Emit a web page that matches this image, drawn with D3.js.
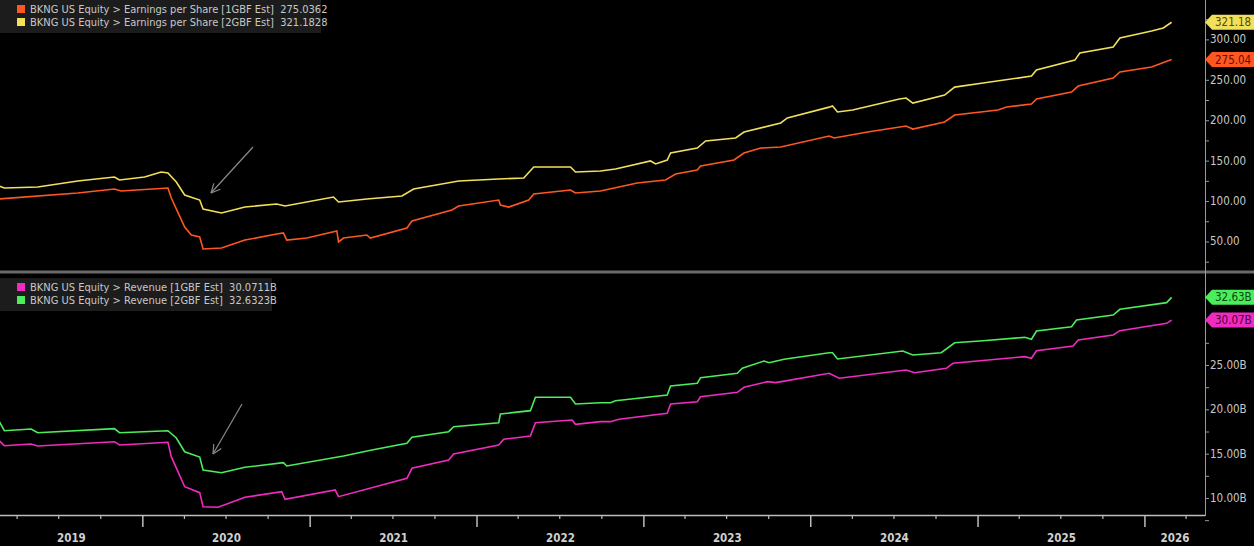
<!DOCTYPE html>
<html><head><meta charset="utf-8">
<script src="https://cdn.jsdelivr.net/npm/d3@7"></script>
<style>body{margin:0;background:#000;}svg{display:block;}</style>
</head><body>
<svg id="c" width="1254" height="546"></svg>
<script>
// ---- data (dates as decimal years) ----
const epsFy1Dates = [2019.14,2019.61,2019.83,2019.87,2020.15,2020.17,2020.25,2020.29,2020.34,2020.36,2020.47,2020.61,2020.80,2020.84,2020.86,2020.98,2021.16,2021.17,2021.20,2021.34,2021.36,2021.58,2021.61,2021.85,2021.89,2022.13,2022.14,2022.19,2022.31,2022.34,2022.56,2022.59,2022.74,
 2022.96,2023.13,2023.19,2023.32,2023.34,2023.54,2023.60,2023.70,2023.82,2024.11,2024.14,2024.34,2024.57,2024.61,2024.80,2024.86,2025.12,2025.17,2025.32,2025.35,2025.56,2025.60,2025.81,2025.85,2026.04,2026.16];
const epsFy1 = [102.6,110.0,114.9,112.4,116.2,103.8,67.9,58.0,55.5,40.7,41.9,51.8,59.2,60.5,51.8,54.3,63.0,49.4,54.3,58.0,54.3,66.7,75.3,88.9,93.9,101.3,95.1,92.6,101.3,108.7,113.7,110.0,112.4,
 122.3,126.1,133.5,138.4,143.4,150.8,159.5,165.6,166.9,180.5,178.0,185.4,192.8,189.1,197.8,206.5,212.6,216.4,220.1,226.3,234.9,242.3,252.2,259.7,265.9,275.04];
const epsFy2Dates = [2019.14,2019.17,2019.37,2019.61,2019.83,2019.86,2020.01,2020.11,2020.15,2020.20,2020.25,2020.34,2020.36,2020.47,2020.61,2020.80,2020.85,2021.14,2021.17,2021.34,2021.55,2021.62,2021.89,2022.13,2022.28,2022.34,2022.56,2022.59,2022.74,
 2022.83,2023.04,2023.07,2023.14,2023.16,2023.32,2023.37,2023.55,2023.60,2023.82,2023.86,2024.11,2024.13,2024.16,2024.25,2024.53,2024.57,2024.61,2024.80,2024.86,2025.03,2025.32,2025.35,2025.58,2025.61,2025.81,2025.85,2026.04,2026.11,2026.16];
const epsFy2 = [118.6,116.2,117.4,124.8,129.8,126.1,129.8,135.9,134.7,123.6,107.5,101.3,90.2,85.2,92.6,96.4,93.9,105.0,98.8,102.5,106.3,114.9,124.8,127.3,128.5,142.1,142.1,135.9,137.2,
 139.7,149.6,145.9,150.8,159.5,165.6,174.3,178.0,185.4,196.6,202.8,216.2,217.6,210.2,212.6,226.3,227.5,221.3,231.2,241.0,246.0,254.6,262.1,274.4,283.1,290.5,301.7,310.3,314.1,321.18];
const revFy1Dates = [2019.14,2019.17,2019.33,2019.37,2019.83,2019.86,2020.15,2020.17,2020.25,2020.34,2020.36,2020.45,2020.61,2020.83,2020.85,2021.15,2021.17,2021.58,2021.61,2021.83,2021.86,2022.13,2022.16,2022.32,2022.35,2022.57,2022.59,2022.74,
 2022.80,2022.85,2023.14,2023.16,2023.32,2023.34,2023.56,2023.60,2023.74,2023.79,2024.11,2024.17,2024.57,2024.62,2024.81,2024.85,2025.28,2025.32,2025.35,2025.57,2025.60,2025.81,2025.85,2026.13,2026.16];
const revFy1 = [16.46,15.90,16.09,15.87,16.35,15.98,16.28,14.66,11.27,10.60,9.02,8.95,10.08,10.71,9.85,10.90,10.15,12.22,13.35,14.29,14.96,15.98,16.62,16.99,18.49,18.80,18.31,18.61,
 18.61,18.88,19.55,20.60,20.86,21.42,21.92,22.49,23.12,23.01,24.06,23.50,24.44,24.13,24.63,25.19,25.94,25.76,26.61,27.14,27.82,28.38,28.87,29.70,30.07];
const revFy2Dates = [2019.14,2019.17,2019.33,2019.37,2019.83,2019.86,2020.15,2020.20,2020.25,2020.34,2020.36,2020.47,2020.61,2020.84,2020.86,2021.20,2021.37,2021.58,2021.61,2021.83,2021.86,2022.13,2022.14,2022.32,2022.35,2022.56,2022.59,2022.74,
 2022.80,2022.83,2023.14,2023.16,2023.32,2023.34,2023.56,2023.59,2023.72,2023.75,2023.84,2024.11,2024.13,2024.16,2024.55,2024.61,2024.78,2024.86,2025.03,2025.28,2025.32,2025.35,2025.56,2025.59,2025.81,2025.85,2026.13,2026.16];
const revFy2 = [18.61,17.59,17.78,17.36,17.82,17.36,17.59,16.77,15.22,14.62,13.16,12.85,13.46,13.98,13.61,14.74,15.41,16.17,16.85,17.48,18.04,18.49,19.47,19.85,21.36,21.36,20.60,20.75,
 20.75,20.97,21.62,22.63,22.94,23.57,24.06,24.63,25.45,25.26,25.64,26.39,26.39,25.68,26.58,26.13,26.39,27.51,27.74,28.12,27.90,28.83,29.32,30.07,30.64,31.28,32.03,32.63];
const yearLabels = ["2019","2020","2021","2022","2023","2024","2025","2026"];
const epsTicks = [50,100,150,200,250,300];
const revTicks = [10,15,20,25];
const legendTop = ["BKNG US Equity > Earnings per Share [1GBF Est]  275.0362","BKNG US Equity > Earnings per Share [2GBF Est]  321.1828"];
const legendBot = ["BKNG US Equity > Revenue [1GBF Est]  30.0711B","BKNG US Equity > Revenue [2GBF Est]  32.6323B"];

const C = {orange:"#ff5722", yellow:"#f2e05a", pink:"#f02cc0", green:"#4ced5a"};
const font = "'Liberation Sans Narrow','DejaVu Sans Condensed','Liberation Sans',sans-serif";

function toDate(t){const y=Math.floor(t);const s=new Date(y,0,1),e=new Date(y+1,0,1);return new Date(+s+(t-y)*(e-s));}

const svg = d3.select("#c");
const W=1205;
const x = d3.scaleTime().domain([toDate(2019.144), toDate(2026.36)]).range([0,W]);
const yTop = d3.scaleLinear().domain([0,300]).range([281.9,39.4]);
const yBot = d3.scaleLinear().domain([10,25]).range([498,365]);

const axisCol="#9a9a9a", txtCol="#c8c8c8";

// clip paths
svg.append("clipPath").attr("id","ct").append("rect").attr("x",0).attr("y",0).attr("width",W).attr("height",270);
svg.append("clipPath").attr("id","cb").append("rect").attr("x",0).attr("y",274).attr("width",W).attr("height",240);

function drawLine(dates, vals, ys, col, clip){
  const data = dates.map((d,i)=>[toDate(d),vals[i]]);
  svg.append("path").datum(data).attr("clip-path",`url(#${clip})`)
    .attr("fill","none").attr("stroke",col).attr("stroke-width",1.6)
    .attr("d", d3.line().x(d=>x(d[0])).y(d=>ys(d[1])));
}
drawLine(epsFy1Dates,epsFy1,yTop,C.orange,"ct");
drawLine(epsFy2Dates,epsFy2,yTop,C.yellow,"ct");
drawLine(revFy1Dates,revFy1,yBot,C.pink,"cb");
drawLine(revFy2Dates,revFy2,yBot,C.green,"cb");

// divider
svg.append("rect").attr("x",0).attr("y",270.5).attr("width",1254).attr("height",3).attr("fill","#6a6a6a");
// right axis line
svg.append("line").attr("x1",W+0.5).attr("x2",W+0.5).attr("y1",0).attr("y2",516).attr("stroke",axisCol).attr("stroke-width",1);

// y axes
function yAxis(scale, ticks, minorStep, fmt, lo, hi){
  const g = svg.append("g").attr("transform",`translate(${W},0)`);
  const minor = d3.range(lo, hi+0.001, minorStep);
  g.selectAll(".mn").data(minor).join("line").attr("x1",0).attr("x2",4)
    .attr("y1",d=>scale(d)+0.5).attr("y2",d=>scale(d)+0.5).attr("stroke",axisCol);
  g.selectAll(".tl").data(ticks).join("text").attr("x",5).attr("y",d=>scale(d)+4)
    .attr("fill",txtCol).attr("font-family",font).attr("font-size",11.5).text(fmt);
}
yAxis(yTop, epsTicks, 25, d=>d3.format(".2f")(d), 25, 325);
yAxis(yBot, revTicks, 2.5, d=>d3.format(".2f")(d)+"B", 7.5, 30);

// tags
function tag(y, col, txtc, label){
  const g=svg.append("g").attr("transform",`translate(${W},${y})`);
  g.append("path").attr("d","M0,0 L7,-7.5 L49,-7.5 L49,7.5 L7,7.5 Z").attr("fill",col);
  g.append("text").attr("x",10).attr("y",4).attr("fill",txtc).attr("font-family",font).attr("font-size",11.5).text(label);
}
tag(yTop(321.18),C.yellow,"#5a4a00","321.18");
tag(yTop(275.04),C.orange,"#5a1000","275.04");
tag(yBot(32.63),C.green,"#0a4a10","32.63B");
tag(yBot(30.07),C.pink,"#4a0035","30.07B");

// x axis
const xa = svg.append("g");
xa.append("line").attr("x1",0).attr("x2",W).attr("y1",515.5).attr("y2",515.5).attr("stroke","#bdbdbd").attr("stroke-width",1.5);
const quarters = x.ticks(d3.timeMonth.every(3));
xa.selectAll(".q").data(quarters).join("line")
  .attr("x1",d=>x(d)).attr("x2",d=>x(d))
  .attr("y1",515).attr("y2",d=>d.getMonth()===0?527:519)
  .attr("stroke","#bdbdbd").attr("stroke-width",d=>d.getMonth()===0?1.5:1.2);
xa.selectAll(".yl").data(yearLabels).join("text")
  .attr("x",d=>{const a=Math.max(0,x(new Date(+d,0,1))), b=Math.min(W,x(new Date(+d+1,0,1)));return (a+b)/2;})
  .attr("y",542).attr("text-anchor","middle").attr("fill","#d0d0d0")
  .attr("font-family",font).attr("font-size",11.5).attr("font-weight","bold").text(d=>d);

// legends
function legend(y0, w, items, cols){
  svg.append("rect").attr("x",0).attr("y",y0).attr("width",w).attr("height",33).attr("fill","#1c1c1c");
  items.forEach((t,i)=>{
    svg.append("rect").attr("x",17).attr("y",y0+5+i*13).attr("width",8).attr("height",8).attr("fill",cols[i]);
    svg.append("text").attr("x",30).attr("y",y0+13+i*13).attr("fill","#c8c8c8").attr("font-family",font)
      .attr("font-size",11).attr("xml:space","preserve").text(t);
  });
}
legend(0,321,legendTop,[C.orange,C.yellow]);
legend(278,272,legendBot,[C.pink,C.green]);

// annotation arrows
function arrow(x1,y1,x2,y2){
  svg.append("line").attr("x1",x1).attr("y1",y1).attr("x2",x2).attr("y2",y2).attr("stroke","#8a8a8a").attr("stroke-width",1.2);
  const a=Math.atan2(y2-y1,x2-x1), L=10;
  [a+Math.PI-0.45,a+Math.PI+0.45].forEach(b=>{
    svg.append("line").attr("x1",x2).attr("y1",y2).attr("x2",x2+L*Math.cos(b)).attr("y2",y2+L*Math.sin(b)).attr("stroke","#8a8a8a").attr("stroke-width",1.2);
  });
}
arrow(253,147,211,193);
arrow(242,404,213,454);
</script>
</body></html>
